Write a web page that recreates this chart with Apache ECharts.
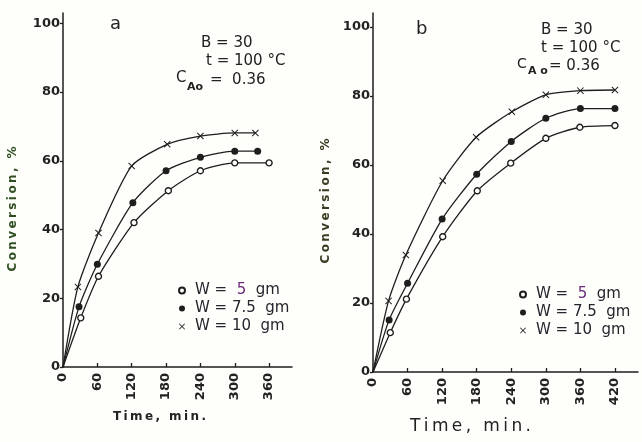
<!DOCTYPE html>
<html><head><meta charset="utf-8">
<script src="https://cdn.jsdelivr.net/npm/echarts@6/dist/echarts.min.js"></script>
<style>html,body{margin:0;padding:0;background:#fefefb}#c{width:642px;height:442px}</style>
</head><body><div id="c"></div>
<script>
// Panel a data
var timeA5 = [0, 31, 62, 124, 184, 240, 300, 360];
var convA5 = [0, 14.3, 26.4, 42.0, 51.3, 57.1, 59.4, 59.4];
var timeA75 = [0, 28, 60, 122, 180, 240, 300, 340];
var convA75 = [0, 17.5, 29.9, 47.8, 57.1, 61.0, 62.8, 62.8];
var timeA10 = [0, 26, 62, 120, 182, 240, 300, 336];
var convA10 = [0, 23.3, 39.0, 58.5, 64.8, 67.2, 68.1, 68.1];
// Panel b data
var timeB5 = [0, 30, 58, 121, 181, 239, 300, 359, 420];
var convB5 = [0, 11.4, 21.1, 39.2, 52.5, 60.5, 67.7, 70.9, 71.4];
var timeB75 = [0, 28, 60, 120, 180, 240, 300, 360, 420];
var convB75 = [0, 15.1, 25.7, 44.3, 57.3, 66.8, 73.5, 76.3, 76.3];
var timeB10 = [0, 27, 57, 121, 179, 241, 300, 360, 420];
var convB10 = [0, 20.6, 33.9, 55.4, 68.0, 75.4, 80.3, 81.5, 81.7];
// ticks
var yTicks = [0, 20, 40, 60, 80, 100];
var xTicksA = [0, 60, 120, 180, 240, 300, 360];
var xTicksB = [0, 60, 120, 180, 240, 300, 360, 420];
var names = ['W =  5 gm', 'W = 7.5 gm', 'W = 10 gm'];

var XPATH = 'path://M1,0 L5,4 L9,0 L10,1 L6,5 L10,9 L9,10 L5,6 L1,10 L0,9 L4,5 L0,1 Z';
var ink = '#1e1e1e';
var styles = [
  {symbol: 'circle', size: 6, item: {color: '#fefefb', borderColor: ink, borderWidth: 1.4}},
  {symbol: 'circle', size: 7, item: {color: ink, borderColor: ink, borderWidth: 0}},
  {symbol: XPATH, size: 7, item: {color: ink, borderWidth: 0}}
];
function mk(k, t, v, idx) {
  var st = styles[k];
  var data = t.map(function (x, i) {
    var d = {value: [x, v[i]]};
    if (i === 0) d.symbol = 'none';
    return d;
  });
  return {
    type: 'line', name: names[k], xAxisIndex: idx, yAxisIndex: idx,
    smooth: 0.22, symbol: st.symbol, symbolSize: st.size, showSymbol: true,
    lineStyle: {color: ink, width: 1.3}, itemStyle: st.item, data: data, z: 3 + (k === 0 ? 1 : 0)
  };
}
var lab = {fontFamily: 'DejaVu Sans', fontWeight: 'bold', fontSize: 13, color: '#222222'};
function xAx(idx, max, ticks) {
  return {type: 'value', gridIndex: idx, min: 0, max: max, interval: 60,
    axisLine: {lineStyle: {color: ink, width: 1.5}},
    axisTick: {inside: true, length: 4, lineStyle: {color: ink, width: 1.3}, customValues: ticks},
    axisLabel: Object.assign({rotate: 90, margin: 6, customValues: ticks}, lab),
    splitLine: {show: false}};
}
function yAx(idx, max) {
  return {type: 'value', gridIndex: idx, min: 0, max: max, interval: 20,
    axisLine: {lineStyle: {color: ink, width: 1.5}},
    axisTick: {inside: false, length: 3, lineStyle: {color: ink, width: 1.3}, customValues: yTicks},
    axisLabel: Object.assign({margin: 3, customValues: yTicks}, lab),
    splitLine: {show: false}};
}
var legRich = {
  a: {fontFamily: 'DejaVu Sans', fontSize: 15, color: '#28242e'},
  p: {fontFamily: 'DejaVu Sans', fontSize: 15, color: '#6a2a78'}
};
function legFmt(n) {
  if (n === names[0]) return '{a|W =  }{p|5}{a|  gm}';
  return '{a|' + n.replace(' gm', '  gm') + '}';
}
function leg(left, top) {
  return {orient: 'vertical', left: left, top: top, itemGap: 3, itemWidth: 6, itemHeight: 6,
    selectedMode: false, formatter: legFmt, textStyle: {rich: legRich, padding: [0, 0, 0, 5]},
    data: [{name: names[0], icon: 'circle'}, {name: names[1], icon: 'circle'}, {name: names[2], icon: XPATH}]};
}
function txt(x, y, s, size, extra) {
  return {type: 'text', left: x, top: y, style: Object.assign({text: s, fontFamily: 'DejaVu Sans', fontSize: size, fill: '#222222'}, extra || {})};
}
var sp = function (s) { return s.split('').join('\u2009'); };
var chart = echarts.init(document.getElementById('c'));
chart.setOption({
  backgroundColor: '#fefefb',
  animation: false,
  grid: [
    {left: 63, top: 13, width: 229, height: 354},
    {left: 373, top: 13, width: 265, height: 359}
  ],
  xAxis: [xAx(0, 400, xTicksA), xAx(1, 460, xTicksB)],
  yAxis: [yAx(0, 103), yAx(1, 104)],
  legend: [leg(173, 278), leg(514, 282)],
  series: [
    mk(0, timeA5, convA5, 0), mk(1, timeA75, convA75, 0), mk(2, timeA10, convA10, 0),
    mk(0, timeB5, convB5, 1), mk(1, timeB75, convB75, 1), mk(2, timeB10, convB10, 1)
  ],
  graphic: [
    txt(110, 15, 'a', 18),
    txt(201, 36, 'B = 30', 15),
    txt(206, 54, 't = 100 °C', 15),
    txt(176, 71, 'C', 15),
    txt(187, 82, 'Ao', 11, {fontWeight: 'bold'}),
    txt(210, 73, '=  0.36', 15),
    txt(416, 20, 'b', 18),
    txt(541, 23, 'B = 30', 15),
    txt(541, 41, 't = 100 °C', 15),
    txt(517, 57, 'C', 14),
    txt(528, 66, 'A o', 11, {fontWeight: 'bold'}),
    txt(549, 59, '= 0.36', 15),
    txt(113, 411, sp('Time, min.'), 12, {fontWeight: 'bold'}),
    txt(410, 418, sp('Time, min.'), 17),
    {type: 'text', x: 13, y: 209, rotation: Math.PI / 2,
      style: {text: sp('Conversion, %'), fontFamily: 'DejaVu Sans', fontWeight: 'bold', fontSize: 12, fill: '#2f4f22', align: 'center', verticalAlign: 'middle'}},
    {type: 'text', x: 326, y: 201, rotation: Math.PI / 2,
      style: {text: sp('Conversion, %'), fontFamily: 'DejaVu Sans', fontWeight: 'bold', fontSize: 12, fill: '#3a3a22', align: 'center', verticalAlign: 'middle'}}
  ]
});
</script></body></html>
